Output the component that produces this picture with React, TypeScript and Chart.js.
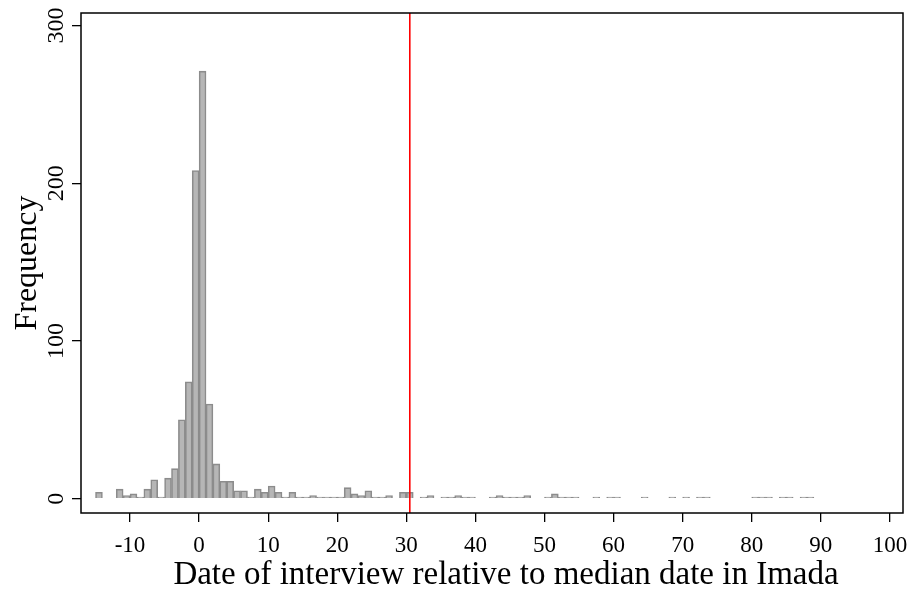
import { useEffect, useRef } from "react";
import { Chart, registerables } from "chart.js";
Chart.register(...registerables);

// Histogram bins (bin start, width 1 day)
const binStarts = [
  -15, -14, -13, -12, -11, -10, -9, -8, -7, -6, -5, -4, -3, -2, -1, 0, 1, 2, 3, 4,
  5, 6, 7, 8, 9, 10, 11, 12, 13, 14, 15, 16, 17, 18, 19, 20, 21, 22, 23, 24,
  25, 26, 27, 28, 29, 30, 31, 32, 33, 34, 35, 36, 37, 38, 39, 40, 41, 42, 43, 44,
  45, 46, 47, 48, 49, 50, 51, 52, 53, 54, 55, 56, 57, 58, 59, 60, 61, 62, 63, 64,
  65, 66, 67, 68, 69, 70, 71, 72, 73, 74, 75, 76, 77, 78, 79, 80, 81, 82, 83, 84,
  85, 86, 87, 88,
];
const frequencies = [
  4, 0, 0, 6, 2, 3, 1, 6, 12, 1, 13, 19, 50, 74, 208, 271, 60, 22, 11, 11,
  5, 5, 1, 6, 4, 8, 4, 1, 4, 1, 1, 2, 1, 1, 1, 1, 7, 3, 2, 5,
  1, 1, 2, 0, 4, 4, 0, 1, 2, 0, 1, 1, 2, 1, 1, 0, 0, 1, 2, 1,
  1, 1, 2, 0, 0, 1, 3, 1, 1, 1, 0, 0, 1, 0, 1, 1, 0, 0, 0, 1,
  0, 0, 0, 1, 0, 1, 0, 1, 1, 0, 0, 0, 0, 0, 0, 1, 1, 1, 0, 1,
  1, 0, 1, 1,
];
const xTicks = [-10, 0, 10, 20, 30, 40, 50, 60, 70, 80, 90, 100];
const yTicks = [0, 100, 200, 300];
const xRange = [-17.1, 101.9];
const yRange = [-9.1, 307.9];
const cutoffLine = 30.5;
const xTitle = "Date of interview relative to median date in Imada";
const yTitle = "Frequency";

const FAMILY = "'Liberation Serif', 'Times New Roman', serif";

export default function App() {
  const ref = useRef<HTMLCanvasElement>(null);

  useEffect(() => {
    document.body.style.margin = "0";
    const canvas = ref.current;
    if (!canvas) return;

    const barData = binStarts
      .map((b, i) => ({ x: b + 0.5, y: frequencies[i] }))
      .filter((p) => p.y > 0);

    const framePlugin = {
      id: "frame",
      afterDraw(chart: any) {
        const { ctx, chartArea: a } = chart;
        ctx.save();
        ctx.strokeStyle = "#000";
        ctx.lineWidth = 1.5;
        ctx.strokeRect(a.left, a.top, a.right - a.left, a.bottom - a.top);
        // x-axis title (placed slightly right of the plot centre, as in the source)
        ctx.fillStyle = "#000";
        ctx.font = `33px ${FAMILY}`;
        ctx.textAlign = "center";
        ctx.textBaseline = "alphabetic";
        const cx = (a.left + a.right) / 2 + 14;
        ctx.fillText(xTitle, cx, 584);
        ctx.restore();
      },
    };

    const gridOpts = {
      display: true,
      drawOnChartArea: false,
      drawTicks: true,
      tickLength: 9,
      color: "#000",
      lineWidth: 1.3,
      offset: false,
    };

    const chart = new Chart(canvas, {
      type: "bar",
      data: {
        datasets: [
          {
            type: "line",
            data: [
              { x: cutoffLine, y: yRange[0] },
              { x: cutoffLine, y: yRange[1] },
            ],
            borderColor: "#ff0000",
            borderWidth: 1.6,
            pointRadius: 0,
            order: 0,
          } as any,
          {
            type: "bar",
            data: barData,
            backgroundColor: "#b6b6b6",
            borderColor: "#8c8c8c",
            borderWidth: 1.6,
            barPercentage: 1,
            categoryPercentage: 1,
            order: 1,
          } as any,
        ],
      },
      options: {
        animation: false,
        responsive: false,
        devicePixelRatio: 1,
        layout: { padding: { top: 13, right: 10, left: 0, bottom: 0 } },
        plugins: { legend: { display: false }, tooltip: { enabled: false } },
        scales: {
          x: {
            type: "linear",
            min: xRange[0],
            max: xRange[1],
            offset: false,
            afterBuildTicks: (s: any) => {
              s.ticks = xTicks.map((v) => ({ value: v }));
            },
            afterFit: (s: any) => {
              s.height = 77;
              s.paddingLeft = 0;
              s.paddingRight = 0;
            },
            grid: gridOpts,
            border: { display: false },
            ticks: {
              font: { family: FAMILY, size: 23 },
              color: "#000",
              padding: 10,
              minRotation: 0,
              maxRotation: 0,
              autoSkip: false,
            },
            title: { display: false, text: xTitle },
          },
          y: {
            type: "linear",
            min: yRange[0],
            max: yRange[1],
            afterBuildTicks: (s: any) => {
              s.ticks = yTicks.map((v) => ({ value: v }));
            },
            afterFit: (s: any) => {
              s.width = 81;
              s.paddingTop = 0;
              s.paddingBottom = 0;
            },
            grid: gridOpts,
            border: { display: false },
            ticks: {
              font: { family: FAMILY, size: 24 },
              color: "#000",
              padding: -3,
              minRotation: 90,
              maxRotation: 90,
              crossAlign: "center",
              autoSkip: false,
            },
            title: {
              display: true,
              text: yTitle,
              font: { family: FAMILY, size: 32, lineHeight: 1 },
              color: "#000",
              padding: { top: 12, bottom: 0 },
            },
          },
        },
      } as any,
      plugins: [framePlugin],
    });

    return () => chart.destroy();
  }, []);

  return (
    <div style={{ position: "absolute", left: 0, top: 0, width: 913, height: 590, background: "#fff" }}>
      <canvas ref={ref} width={913} height={590} style={{ display: "block", width: 913, height: 590 }} />
    </div>
  );
}
